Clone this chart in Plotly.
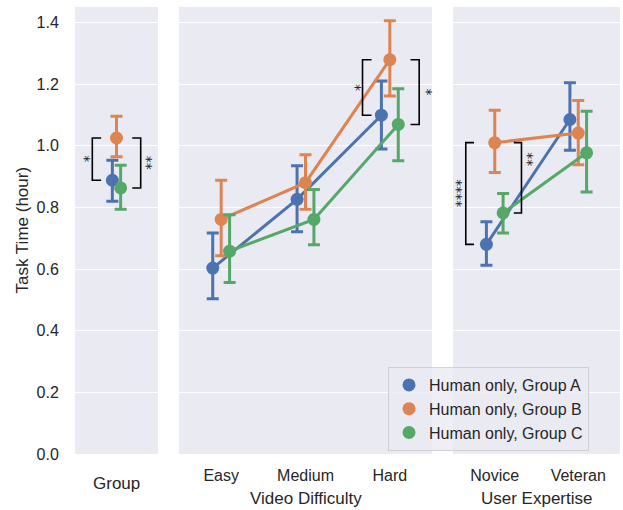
import plotly.graph_objects as go

# ---------------- data ----------------
groups = ["Human only, Group A", "Human only, Group B", "Human only, Group C"]
colors = ["#4C72B0", "#DD8452", "#55A868"]

# Panel 1: overall by group
overall_mean = [0.888, 1.025, 0.863]
overall_lo = [0.820, 0.964, 0.794]
overall_hi = [0.953, 1.096, 0.937]

# Panel 2: video difficulty
difficulty_cats = ["Easy", "Medium", "Hard"]
diff_mean = [[0.603, 0.826, 1.099],
             [0.761, 0.880, 1.279],
             [0.658, 0.761, 1.069]]
diff_lo = [[0.504, 0.721, 0.989],
           [0.643, 0.794, 1.161],
           [0.556, 0.679, 0.951]]
diff_hi = [[0.717, 0.935, 1.210],
           [0.888, 0.971, 1.405],
           [0.776, 0.858, 1.185]]

# Panel 3: user expertise
expertise_cats = ["Novice", "Veteran"]
exp_mean = [[0.680, 1.085],
            [1.010, 1.041],
            [0.782, 0.977]]
exp_lo = [[0.612, 0.985],
          [0.913, 0.938],
          [0.717, 0.850]]
exp_hi = [[0.753, 1.204],
          [1.115, 1.147],
          [0.845, 1.112]]

y_ticks = [0.0, 0.2, 0.4, 0.6, 0.8, 1.0, 1.2, 1.4]

# significance comparisons: (panel, category index, group i, group j, label, side)
comparisons = [
    (1, 0, 0, 1, "*", "left"),
    (1, 0, 1, 2, "**", "right"),
    (2, 2, 0, 1, "*", "left"),
    (2, 2, 1, 2, "*", "right"),
    (3, 0, 0, 1, "****", "left"),
    (3, 0, 1, 2, "**", "right"),
]

# ---------------- style ----------------
BG = "#EAEAF2"
TXT = "#262626"
FONT = "Liberation Sans, Arial, sans-serif"
dodge = [-0.1, 0.0, 0.1]
# bracket geometry per panel: (vertical line offset, tick end offset, label offset)
bracket_geom = {
    1: {"left": (-0.583, -0.37, -0.76), "right": (0.583, 0.38, 0.74)},
    2: {"left": (-0.324, -0.217, -0.407), "right": (0.348, 0.245, 0.435)},
    3: {"left": (-0.347, -0.248, -0.45), "right": (0.32, 0.228, 0.40)},
}
# where along the bracket each label sits (0 = first group's end, 1 = second)
label_frac = [0.5, 0.5, 0.5, 0.5, 0.5, 0.24]

fig = go.Figure()

panel_data = {
    1: ([0], [[m] for m in overall_mean], [[v] for v in overall_lo], [[v] for v in overall_hi]),
    2: (list(range(len(difficulty_cats))), diff_mean, diff_lo, diff_hi),
    3: (list(range(len(expertise_cats))), exp_mean, exp_lo, exp_hi),
}

for p in (1, 2, 3):
    xs, means, los, his = panel_data[p]
    xa = "x" if p == 1 else f"x{p}"
    ya = "y" if p == 1 else f"y{p}"
    for g in range(3):
        m = means[g]
        fig.add_trace(go.Scatter(
            x=[x + dodge[g] for x in xs], y=m,
            mode="markers" if p == 1 else "lines+markers",
            name=groups[g], legendgroup=groups[g], showlegend=(p == 1),
            xaxis=xa, yaxis=ya,
            marker=dict(color=colors[g], size=13),
            line=dict(color=colors[g], width=3),
            error_y=dict(type="data", symmetric=False,
                         array=[h - v for h, v in zip(his[g], m)],
                         arrayminus=[v - l for v, l in zip(m, los[g])],
                         color=colors[g], thickness=3, width=6),
        ))

shapes = []
annotations = []
for k, (p, ci, gi, gj, label, side) in enumerate(comparisons):
    xs, means, _, _ = panel_data[p]
    xa = "x" if p == 1 else f"x{p}"
    ya = "y" if p == 1 else f"y{p}"
    xc = xs[ci]
    y1, y2 = means[gi][ci], means[gj][ci]
    vo, to, lo_ = bracket_geom[p][side]
    xv, xt = xc + vo, xc + to
    shapes.append(dict(type="path", xref=xa, yref=ya,
                       path=f"M {xt},{y1} L {xv},{y1} L {xv},{y2} L {xt},{y2}",
                       line=dict(color="black", width=1.6)))
    annotations.append(dict(x=xc + lo_, y=y1 + label_frac[k] * (y2 - y1), xref=xa, yref=ya,
                            text=label, showarrow=False, textangle=90,
                            font=dict(family="DejaVu Sans", size=14, color=TXT),
                            xanchor="center", yanchor="middle"))

# axis labels
annotations.append(dict(x=0.5, y=0, xref="x domain", yref="paper", text="Group",
                        showarrow=False, yshift=-29, yanchor="middle",
                        font=dict(family=FONT, size=17, color=TXT)))
annotations.append(dict(x=0.5, y=0, xref="x2 domain", yref="paper", text="Video Difficulty",
                        showarrow=False, yshift=-44, yanchor="middle",
                        font=dict(family=FONT, size=17, color=TXT)))
annotations.append(dict(x=0.5, y=0, xref="x3 domain", yref="paper", text="User Expertise",
                        showarrow=False, yshift=-44, yanchor="middle",
                        font=dict(family=FONT, size=17, color=TXT)))
annotations.append(dict(x=0, y=0.5, xref="paper", yref="paper", text="Task Time (hour)",
                        showarrow=False, textangle=-90, xshift=-53,
                        xanchor="center", yanchor="middle",
                        font=dict(family=FONT, size=17, color=TXT)))

W, H = 623, 510
L, R, T, B = 75, 3, 7, 56
pw = W - L - R
def dom(a, b):
    return [(a - L) / pw, (b - L) / pw]

xcommon = dict(showgrid=False, zeroline=False, showline=False,
               ticks="outside", ticklen=7, tickcolor="rgba(0,0,0,0)",
               tickfont=dict(family=FONT, size=16, color=TXT))
ycommon = dict(range=[0, 1.45], showgrid=True, gridcolor="white", gridwidth=1.3,
               zeroline=False, showline=False, tickvals=y_ticks)

fig.update_layout(
    width=W, height=H,
    margin=dict(l=L, r=R, t=T, b=B),
    paper_bgcolor="white", plot_bgcolor=BG,
    font=dict(family=FONT, color=TXT),
    xaxis=dict(domain=dom(75, 158), range=[-1, 1], tickvals=[], anchor="y", **xcommon),
    xaxis2=dict(domain=dom(179, 432), range=[-0.5, 2.5], tickvals=[0, 1, 2],
                ticktext=difficulty_cats, anchor="y2", **xcommon),
    xaxis3=dict(domain=dom(453, 620), range=[-0.5, 1.5], tickvals=[0, 1],
                ticktext=expertise_cats, anchor="y3", **xcommon),
    yaxis=dict(anchor="x", ticks="outside", ticklen=12, tickcolor="rgba(0,0,0,0)",
               tickformat=".1f", tickfont=dict(family=FONT, size=16, color=TXT), **ycommon),
    yaxis2=dict(anchor="x2", matches="y", showticklabels=False, **ycommon),
    yaxis3=dict(anchor="x3", matches="y", showticklabels=False, **ycommon),
    shapes=shapes,
    annotations=annotations,
    showlegend=True,
    legend=dict(x=(388 - L) / pw, y=(454 - 367) / (H - T - B), xanchor="left", yanchor="top",
                bgcolor="rgba(234,234,242,0.8)", bordercolor="rgba(200,200,208,0.8)",
                borderwidth=1, font=dict(family=FONT, size=16, color=TXT),
                tracegroupgap=0, itemsizing="trace"),
)

fig.write_html("out.html", config={"displayModeBar": False},
               post_script="document.body.style.margin='0px';document.body.style.padding='0px';")
